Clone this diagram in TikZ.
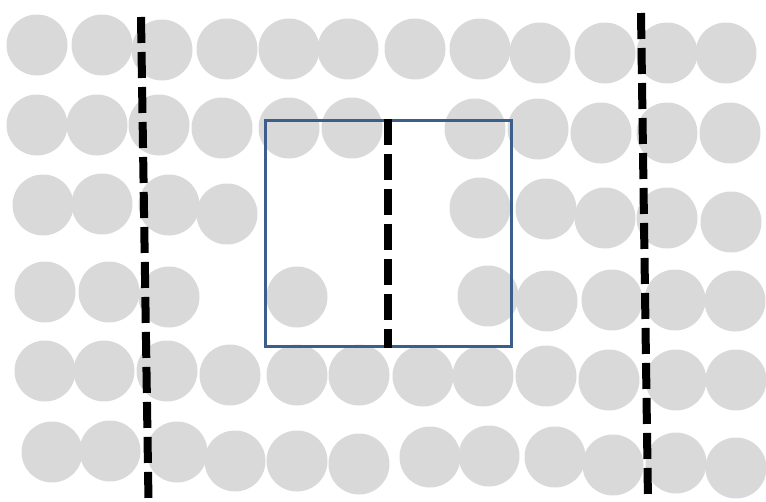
\documentclass[tikz,border=0pt]{standalone}
\definecolor{dotgrey}{HTML}{D9D9D9}
\definecolor{boxblue}{HTML}{3B5E8C}
\begin{document}
\begin{tikzpicture}[x=1pt,y=-1pt,
  dot/.style={fill=dotgrey},
  divider/.style={line width=8pt, dash pattern=on 26pt off 9pt, draw=black},
  frame/.style={draw=boxblue, line width=3pt, inner sep=0pt, minimum width=246pt, minimum height=226pt, anchor=north west}]
\useasboundingbox (0,0) rectangle (766,501);
% grey dots
\foreach \x/\y in {37/45,102/45,162/50,227/49,289/49,348/49,415/49,480/49,540/53,605/53,667/53,726/53,
  37/125,97/125,159/125,222/128,289/128,352/128,475/129,538/129,601/133,667/133,730/133,
  43/205,102/204,169/205,227/214,480/208,546/209,605/218,667/218,731/222,
  45/292,109/292,169/297,297/297,488/296,547/301,612/300,675/300,735/301,
  45/371,104/371,167/371,230/375,297/375,359/375,423/376,483/376,546/376,609/380,676/380,736/380,
  52/452,110/451,177/452,235/461,297/461,359/464,430/457,489/456,555/457,613/465,676/463,736/468}
  \fill[dot] (\x,\y) circle (30.5pt);
% blue frame
\node[frame] (box) at (263.5,118.5) {};
% dashed dividers
\coordinate (lt) at (141,17);
\coordinate (lb) at (148.5,501);
\coordinate (rt) at (641,13);
\coordinate (rb) at (648,501);
\draw[divider] (lt) -- (lb);
\draw[divider] (rt) -- (rb);
\draw[divider] (box.north) -- (box.south);
\end{tikzpicture}
\end{document}
